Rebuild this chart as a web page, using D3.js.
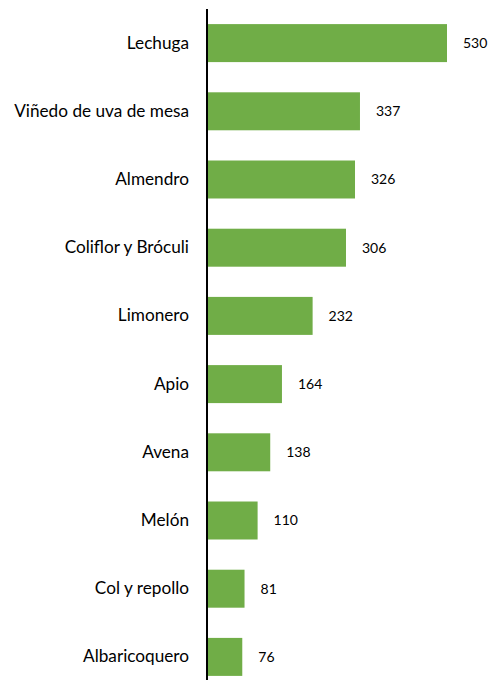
<!DOCTYPE html>
<html><head><meta charset="utf-8">
<script src="https://cdn.jsdelivr.net/npm/d3@7"></script>
<style>body{margin:0;background:#fff;}svg{display:block;}</style>
</head><body>
<div id="chart"></div>
<script>
const categories = ["Lechuga","Viñedo de uva de mesa","Almendro","Coliflor y Bróculi","Limonero","Apio","Avena","Melón","Col y repollo","Albaricoquero"];
const values = [530,337,326,306,232,164,138,110,81,76];

const W = 491, H = 680;
const svg = d3.select("#chart").append("svg").attr("width", W).attr("height", H);
const x0 = 208;
const x = d3.scaleLinear().domain([0, 530]).range([x0, 447]);
const y = d3.scaleBand().domain(categories).range([9, 691]).paddingInner(0.443).paddingOuter(0.2215);
const font = "Lato, 'Liberation Sans', sans-serif";

svg.selectAll("rect.bar").data(values).join("rect")
  .attr("class","bar")
  .attr("x", x(0))
  .attr("y", (d,i) => y(categories[i]))
  .attr("width", d => x(d) - x(0))
  .attr("height", y.bandwidth())
  .attr("fill", "#70AD47");

svg.selectAll("text.val").data(values).join("text")
  .attr("class","val")
  .attr("x", d => x(d) + 16)
  .attr("y", (d,i) => y(categories[i]) + y.bandwidth()/2)
  .attr("dy", "0.35em")
  .attr("font-family", font).attr("font-size", 14).attr("fill", "#000")
  .text(d => d);

const yAxis = d3.axisLeft(y).tickSize(0).tickPadding(18);
const g = svg.append("g").attr("transform", `translate(${x0 - 1},0)`).call(yAxis);
g.select(".domain").remove();
g.selectAll("text").attr("font-family", font).attr("font-size", 17.2).attr("fill", "#000");
svg.append("line").attr("x1", x0 - 1).attr("x2", x0 - 1).attr("y1", 9).attr("y2", H)
  .attr("stroke", "#000").attr("stroke-width", 2);
</script>
</body></html>
